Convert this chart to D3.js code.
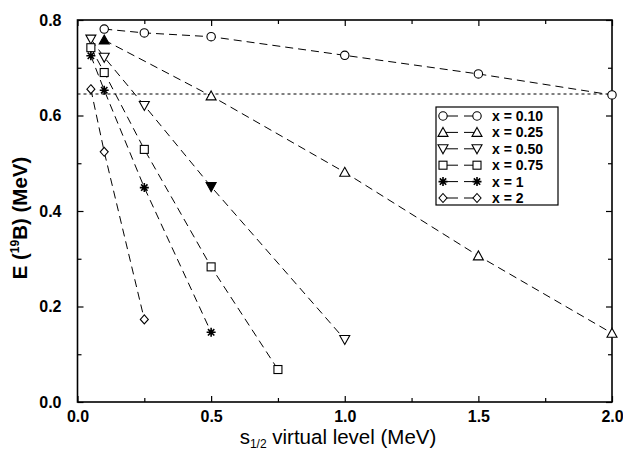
<!DOCTYPE html>
<html>
<head>
<meta charset="utf-8">
<script src="https://cdn.jsdelivr.net/npm/d3@7"></script>
<style>
  html, body { margin: 0; padding: 0; background: #fff; }
  svg { display: block; }
  text { font-family: "Liberation Sans", Arial, Helvetica, sans-serif; fill: #000; }
</style>
</head>
<body>
<svg id="chart" width="623" height="454"></svg>
<script>
// ---------------- DATA ----------------
const seriesNames = ["x = 0.10", "x = 0.25", "x = 0.50", "x = 0.75", "x = 1", "x = 2"];
const seriesSymbols = ["circle", "triangleUp", "triangleDown", "square", "asterisk", "diamond"];

const sLevel_x010 = [0.10, 0.25, 0.50, 1.00, 1.50, 2.00];
const energy_x010 = [0.781, 0.773, 0.765, 0.726, 0.687, 0.643];

const sLevel_x025 = [0.10, 0.50, 1.00, 1.50, 2.00];
const energy_x025 = [0.758, 0.641, 0.481, 0.306, 0.144];

const sLevel_x050 = [0.05, 0.10, 0.25, 0.50, 1.00];
const energy_x050 = [0.760, 0.722, 0.621, 0.451, 0.131];

const sLevel_x075 = [0.05, 0.10, 0.25, 0.50, 0.75];
const energy_x075 = [0.742, 0.690, 0.529, 0.283, 0.068];

const sLevel_x1 = [0.05, 0.10, 0.25, 0.50];
const energy_x1 = [0.725, 0.653, 0.449, 0.146];

const sLevel_x2 = [0.05, 0.10, 0.25];
const energy_x2 = [0.655, 0.524, 0.173];

// points drawn with filled symbols: [series index, point index]
const filledPoints = [[1, 0], [2, 3]];

// horizontal reference level
const referenceLevel = 0.645;

const xTicksMajor = [0, 0.5, 1.0, 1.5, 2.0];
const xTicksMinor = [0.25, 0.75, 1.25, 1.75];
const yTicksMajor = [0, 0.2, 0.4, 0.6, 0.8];
const yTicksMinor = [0.1, 0.3, 0.5, 0.7];

const sLevels = [sLevel_x010, sLevel_x025, sLevel_x050, sLevel_x075, sLevel_x1, sLevel_x2];
const energies = [energy_x010, energy_x025, energy_x050, energy_x075, energy_x1, energy_x2];

// ---------------- CHART ----------------
(function () {
const svg = d3.select("#chart");
svg.append("rect").attr("width", 623).attr("height", 454).attr("fill", "#fff");

const pL = 77.5, pR = 612, pT = 20, pB = 402;
const x = d3.scaleLinear().domain([0, 2]).range([pL, pR]);
const y = d3.scaleLinear().domain([0, 0.8]).range([pB, pT]);

const fmt = d3.format(".1f");

function styleAxis(g) {
  g.select(".domain").remove();
  g.selectAll(".tick line").attr("stroke", "#000").attr("stroke-width", 1.2);
}
function styleLabels(g) {
  g.selectAll(".tick text").attr("font-size", 16).attr("font-weight", "bold")
    .attr("font-family", "Liberation Sans, Arial, sans-serif").attr("fill", "#000");
}

// bottom axis
svg.append("g").attr("transform", `translate(0,${pB})`)
  .call(d3.axisBottom(x).tickValues(xTicksMajor).tickSize(-6).tickPadding(9).tickFormat(fmt))
  .call(styleAxis).call(styleLabels);
svg.append("g").attr("transform", `translate(0,${pB})`)
  .call(d3.axisBottom(x).tickValues(xTicksMinor).tickSize(-4).tickFormat(""))
  .call(styleAxis);
// top axis
svg.append("g").attr("transform", `translate(0,${pT})`)
  .call(d3.axisTop(x).tickValues(xTicksMajor).tickSize(-6).tickFormat(""))
  .call(styleAxis);
svg.append("g").attr("transform", `translate(0,${pT})`)
  .call(d3.axisTop(x).tickValues(xTicksMinor).tickSize(-4).tickFormat(""))
  .call(styleAxis);
// left axis
svg.append("g").attr("transform", `translate(${pL},0)`)
  .call(d3.axisLeft(y).tickValues(yTicksMajor).tickSize(-6).tickPadding(16).tickFormat(fmt))
  .call(styleAxis).call(styleLabels);
svg.append("g").attr("transform", `translate(${pL},0)`)
  .call(d3.axisLeft(y).tickValues(yTicksMinor).tickSize(-4).tickFormat(""))
  .call(styleAxis);
// right axis
svg.append("g").attr("transform", `translate(${pR},0)`)
  .call(d3.axisRight(y).tickValues(yTicksMajor).tickSize(-6).tickFormat(""))
  .call(styleAxis);
svg.append("g").attr("transform", `translate(${pR},0)`)
  .call(d3.axisRight(y).tickValues(yTicksMinor).tickSize(-4).tickFormat(""))
  .call(styleAxis);

// frame
svg.append("rect").attr("x", pL).attr("y", pT)
  .attr("width", pR - pL).attr("height", pB - pT)
  .attr("fill", "none").attr("stroke", "#000").attr("stroke-width", 1.6);

// reference dotted line
svg.append("line")
  .attr("x1", x(0)).attr("x2", x(2))
  .attr("y1", y(referenceLevel)).attr("y2", y(referenceLevel))
  .attr("stroke", "#000").attr("stroke-width", 1).attr("stroke-dasharray", "3,3");

// series lines
const line = d3.line().x(d => x(d[0])).y(d => y(d[1]));
const seriesData = seriesNames.map((n, i) => sLevels[i].map((s, j) => [s, energies[i][j]]));

svg.append("g").selectAll("path").data(seriesData).join("path")
  .attr("d", line)
  .attr("fill", "none").attr("stroke", "#000").attr("stroke-width", 1)
  .attr("stroke-dasharray", "8,5");

// symbols
function drawSymbol(g, type, cx, cy, filled) {
  const fill = filled ? "#000" : "#fff";
  let el;
  if (type === "circle") {
    el = g.append("circle").attr("cx", cx).attr("cy", cy).attr("r", 4.2);
  } else if (type === "square") {
    el = g.append("rect").attr("x", cx - 4).attr("y", cy - 4).attr("width", 8).attr("height", 8);
  } else if (type === "triangleUp") {
    el = g.append("path").attr("d", `M${cx},${cy - 5}L${cx + 5},${cy + 4}L${cx - 5},${cy + 4}Z`);
  } else if (type === "triangleDown") {
    el = g.append("path").attr("d", `M${cx},${cy + 5}L${cx + 5},${cy - 4}L${cx - 5},${cy - 4}Z`);
  } else if (type === "diamond") {
    el = g.append("path").attr("d", `M${cx},${cy - 4.5}L${cx + 4},${cy}L${cx},${cy + 4.5}L${cx - 4},${cy}Z`);
  } else if (type === "asterisk") {
    const r = 4.5, p = [];
    for (let k = 0; k < 4; k++) {
      const a = k * Math.PI / 4;
      p.push(`M${cx - r * Math.cos(a)},${cy - r * Math.sin(a)}L${cx + r * Math.cos(a)},${cy + r * Math.sin(a)}`);
    }
    g.append("path").attr("d", p.join("")).attr("stroke", "#000").attr("stroke-width", 1.6);
    g.append("circle").attr("cx", cx).attr("cy", cy).attr("r", 1.8).attr("fill", "#000");
    return;
  }
  el.attr("fill", fill).attr("stroke", "#000").attr("stroke-width", 1.1);
}

const symG = svg.append("g");
seriesData.forEach((pts, i) => {
  pts.forEach((d, j) => {
    const filled = filledPoints.some(f => f[0] === i && f[1] === j);
    drawSymbol(symG, seriesSymbols[i], x(d[0]), y(d[1]), filled);
  });
});

// legend
const lg = svg.append("g");
lg.append("rect").attr("x", 436).attr("y", 107).attr("width", 122).attr("height", 98)
  .attr("fill", "#fff").attr("stroke", "#000").attr("stroke-width", 1.2);
seriesNames.forEach((n, i) => {
  const ry = 116 + i * 16.4;
  lg.append("line").attr("x1", 443).attr("x2", 458).attr("y1", ry).attr("y2", ry)
    .attr("stroke", "#000").attr("stroke-width", 1);
  lg.append("line").attr("x1", 464).attr("x2", 477).attr("y1", ry).attr("y2", ry)
    .attr("stroke", "#000").attr("stroke-width", 1);
  drawSymbol(lg, seriesSymbols[i], 443, ry, false);
  drawSymbol(lg, seriesSymbols[i], 477, ry, false);
  lg.append("text").attr("x", 492).attr("y", ry).attr("dy", "0.36em")
    .attr("font-size", 14).attr("font-weight", "bold").text(n);
});

// axis titles
const xt = svg.append("text").attr("x", 338).attr("y", 444).attr("text-anchor", "middle")
  .attr("font-size", 20.5);
xt.append("tspan").text("s");
xt.append("tspan").attr("font-size", 12).attr("dy", 4).text("1/2");
xt.append("tspan").attr("dy", -4).text(" virtual level (MeV)");

const yt = svg.append("text").attr("transform", "translate(27,218) rotate(-90)")
  .attr("text-anchor", "middle").attr("font-size", 20.5).attr("font-weight", "bold");
yt.append("tspan").text("E (");
yt.append("tspan").attr("font-size", 12).attr("dy", -8).text("19");
yt.append("tspan").attr("dy", 8).text("B) (MeV)");
})();
</script>
</body>
</html>
